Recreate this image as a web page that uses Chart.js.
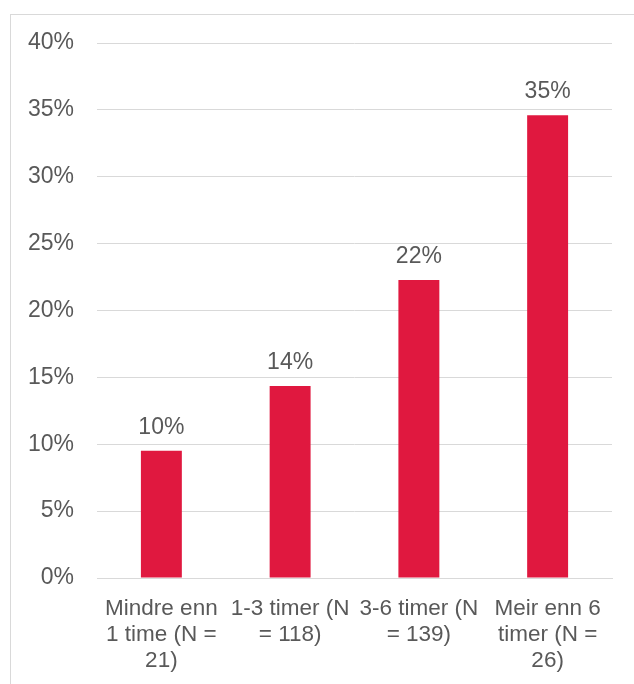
<!DOCTYPE html>
<html>
<head>
<meta charset="utf-8">
<script src="https://cdn.jsdelivr.net/npm/chart.js@4/dist/chart.umd.min.js"></script>
<style>
  html, body { margin: 0; padding: 0; background: #ffffff; }
  #wrap { position: relative; width: 634px; height: 684px; overflow: hidden; }
  #frame { position: absolute; left: 10px; top: 14px; width: 800px; height: 800px;
           border-left: 1px solid #d9d9d9; border-top: 1px solid #d9d9d9; }
  #c { position: absolute; left: 0; top: 0; }
</style>
</head>
<body>
<div id="wrap">
  <div id="frame"></div>
  <canvas id="c" width="634" height="684"></canvas>
</div>
<script>
const categories = [
  ["Mindre enn", "1 time (N =", "21)"],
  ["1-3 timer (N", "= 118)"],
  ["3-6 timer (N", "= 139)"],
  ["Meir enn 6", "timer (N =", "26)"]
];
const values = [9.52, 14.36, 22.28, 34.6];
const valueLabels = ["10%", "14%", "22%", "35%"];
const yTicks = [0, 5, 10, 15, 20, 25, 30, 35, 40];

const textColor = '#595959';
const fontFamily = 'Arial, "Liberation Sans", sans-serif';

const barLabelPlugin = {
  id: 'barLabels',
  afterDatasetsDraw(chart) {
    const ctx = chart.ctx;
    const meta = chart.getDatasetMeta(0);
    ctx.save();
    ctx.font = '23px ' + fontFamily;
    ctx.fillStyle = textColor;
    ctx.textAlign = 'center';
    ctx.textBaseline = 'alphabetic';
    meta.data.forEach((bar, i) => {
      ctx.fillText(valueLabels[i], bar.x, bar.y - 17);
    });
    ctx.restore();
  }
};

new Chart(document.getElementById('c'), {
  type: 'bar',
  data: {
    labels: categories,
    datasets: [{
      data: values,
      backgroundColor: '#E0183F',
      borderWidth: 0,
      barPercentage: 1,
      categoryPercentage: 0.318
    }]
  },
  options: {
    responsive: false,
    animation: false,
    devicePixelRatio: 1,
    layout: { padding: { left: 0, right: 22, top: 43, bottom: 0 } },
    plugins: { legend: { display: false }, tooltip: { enabled: false } },
    scales: {
      x: {
        grid: { display: false, drawTicks: false },
        border: { display: true, color: '#d9d9d9', width: 1 },
        ticks: {
          color: textColor,
          font: { size: 22.5, family: fontFamily, lineHeight: 1.16 },
          padding: 18,
          autoSkip: false,
          maxRotation: 0,
          minRotation: 0
        },
        afterFit(scale) { scale.height = 106; }
      },
      y: {
        min: 0,
        max: 40,
        afterBuildTicks(scale) { scale.ticks = yTicks.map(v => ({ value: v })); },
        grid: { color: '#d9d9d9', lineWidth: 1, drawTicks: false },
        border: { display: false },
        ticks: {
          color: textColor,
          font: { size: 23, family: fontFamily },
          padding: 23,
          callback: (v) => v + '%'
        },
        afterFit(scale) { scale.width = 97; }
      }
    }
  },
  plugins: [barLabelPlugin]
});
</script>
</body>
</html>
